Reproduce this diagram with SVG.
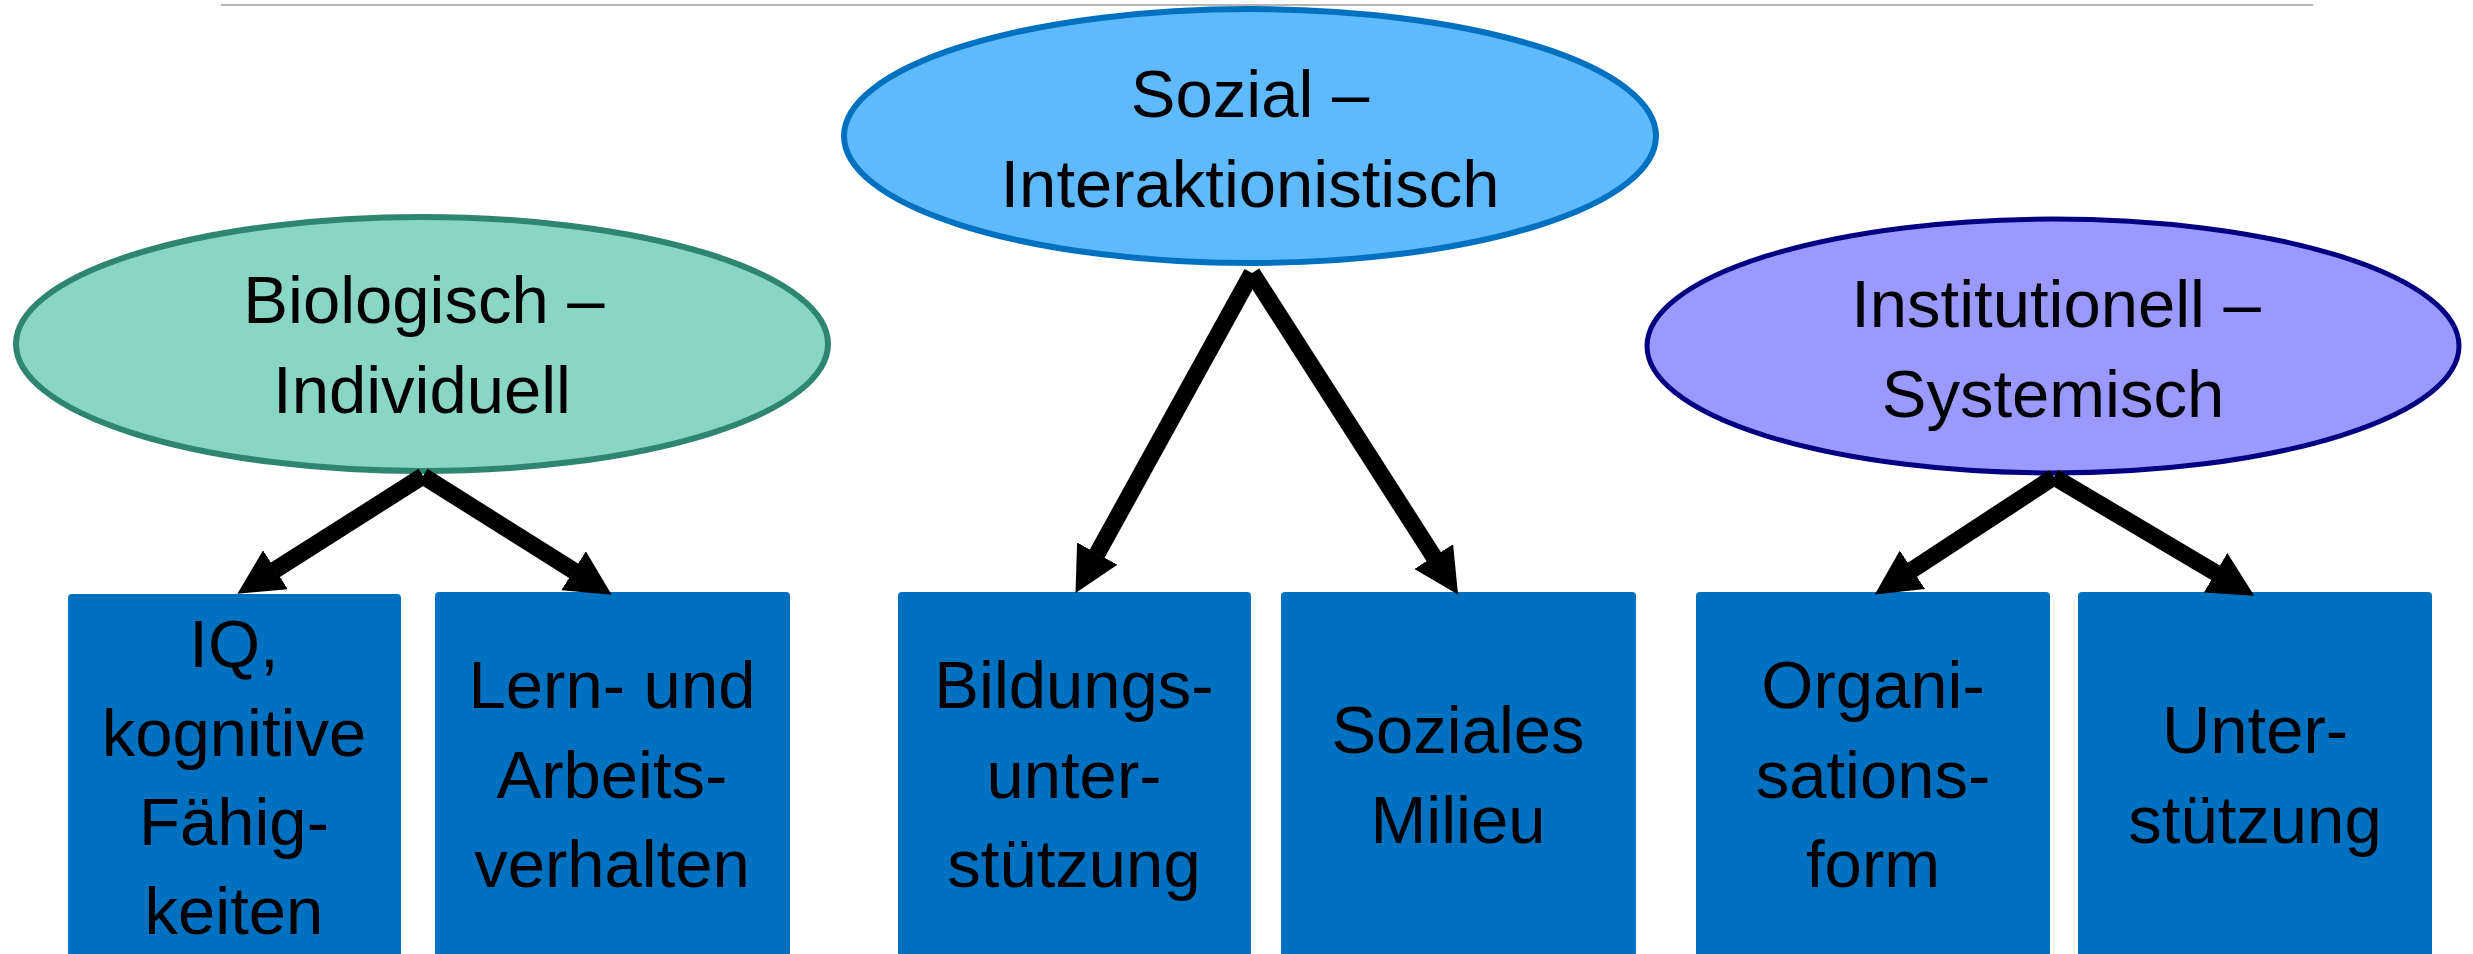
<svg xmlns="http://www.w3.org/2000/svg" width="2473" height="954" viewBox="0 0 2473 954">
<style>
text{font-family:"Liberation Sans",Arial,sans-serif;font-size:67px;fill:#000;text-anchor:middle}
.box{fill:#0070c0}
.conn{stroke:#000;stroke-width:17;fill:none;marker-end:url(#ah)}
</style>
<defs>
<marker id="ah" markerUnits="userSpaceOnUse" markerWidth="50" markerHeight="50" viewBox="0 -25 50 50" refX="0.5" refY="0" orient="auto">
<path d="M0,-23 L45,0 L0,23 z" fill="#000"/>
</marker>
</defs>
<rect width="2473" height="954" fill="#fff"/>
<line x1="221" y1="5" x2="2313" y2="5" stroke="#b4b4b4" stroke-width="2"/>

<g id="n-bio">
<ellipse cx="422" cy="344" rx="406" ry="127" fill="#8ad6c4" stroke="#2e8570" stroke-width="6"/>
<text x="424" y="323">Biologisch –</text>
<text x="422" y="413">Individuell</text>
</g>
<g id="n-soz">
<ellipse cx="1250" cy="136" rx="406" ry="127" fill="#5fb9fd" stroke="#0070c0" stroke-width="6"/>
<text x="1250" y="117">Sozial –</text>
<text x="1250" y="207">Interaktionistisch</text>
</g>
<g id="n-inst">
<ellipse cx="2053" cy="346" rx="406" ry="127" fill="#9999ff" stroke="#000080" stroke-width="5"/>
<text x="2056" y="327">Institutionell –</text>
<text x="2053" y="417">Systemisch</text>
</g>

<g id="b-iq">
<rect class="box" x="68" y="594" width="333" height="380" rx="4"/>
<text x="234" y="667">IQ,</text>
<text x="234" y="756">kognitive</text>
<text x="234" y="845">Fähig-</text>
<text x="234" y="934">keiten</text>
</g>
<g id="b-lern">
<rect class="box" x="435" y="592" width="355" height="380" rx="4"/>
<text x="612" y="708">Lern- und</text>
<text x="612" y="798">Arbeits-</text>
<text x="612" y="887">verhalten</text>
</g>
<g id="b-bild">
<rect class="box" x="898" y="592" width="353" height="380" rx="4"/>
<text x="1074" y="708">Bildungs-</text>
<text x="1074" y="798">unter-</text>
<text x="1074" y="887">stützung</text>
</g>
<g id="b-milieu">
<rect class="box" x="1281" y="592" width="355" height="380" rx="4"/>
<text x="1458" y="753">Soziales</text>
<text x="1458" y="843">Milieu</text>
</g>
<g id="b-org">
<rect class="box" x="1696" y="592" width="354" height="380" rx="4"/>
<text x="1873" y="708">Organi-</text>
<text x="1873" y="798">sations-</text>
<text x="1873" y="887">form</text>
</g>
<g id="b-unter">
<rect class="box" x="2078" y="592" width="354" height="380" rx="4"/>
<text x="2255" y="753">Unter-</text>
<text x="2255" y="843">stützung</text>
</g>

<g id="connectors">
<path class="conn" d="M423,476 L275,570"/>
<path class="conn" d="M423,476 L574,571"/>
<path class="conn" d="M1252,273 L1097,554"/>
<path class="conn" d="M1252,273 L1434,557"/>
<path class="conn" d="M2054,477 L1912,570"/>
<path class="conn" d="M2054,477 L2216,573"/>
</g>
</svg>
